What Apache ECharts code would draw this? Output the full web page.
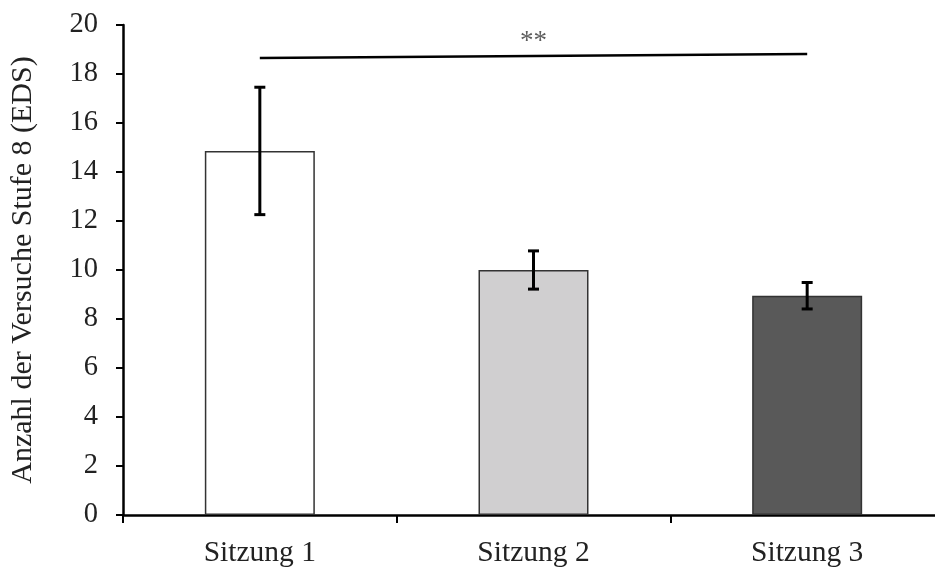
<!DOCTYPE html>
<html><head><meta charset="utf-8">
<script src="https://cdn.jsdelivr.net/npm/echarts@6/dist/echarts.min.js"></script>
<style>html,body{margin:0;padding:0;background:#fff}#c{width:935px;height:568px}</style>
</head><body><div id="c"></div>
<script>
var categories = ['Sitzung 1', 'Sitzung 2', 'Sitzung 3'];
var means = [14.86, 10.0, 8.95];
var errors = [2.6, 0.78, 0.54];
var barColors = ['#ffffff', '#d0cfd0', '#595959'];
var sigLine = [18.65, null, 18.82];
var sigLabel = [null, 19.4, null];
var yTicks = [0, 2, 4, 6, 8, 10, 12, 14, 16, 18, 20];
var yTitle = 'Anzahl der Versuche Stufe 8 (EDS)';

var font = 'Liberation Serif';
var chart = echarts.init(document.getElementById('c'));
chart.setOption({
  animation: false,
  grid: {left: 123, right: -9, top: 25, bottom: 53, containLabel: false, outerBoundsMode: 'none'},
  xAxis: {
    type: 'category', data: categories,
    axisLine: {lineStyle: {color: '#000', width: 2.5}},
    axisTick: {show: true, length: 8, lineStyle: {color: '#000', width: 2}},
    axisLabel: {color: '#222', fontFamily: font, fontSize: 29.5, margin: 23}
  },
  yAxis: {
    type: 'value', min: yTicks[0], max: yTicks[yTicks.length - 1], interval: 2,
    name: yTitle, nameLocation: 'middle', nameGap: 85, nameRotate: 90,
    nameTextStyle: {color: '#222', fontFamily: font, fontSize: 30},
    axisLine: {show: true, lineStyle: {color: '#000', width: 2.5}},
    axisTick: {show: true, length: 7, lineStyle: {color: '#000', width: 2}},
    axisLabel: {color: '#222', fontFamily: font, fontSize: 28.5, margin: 25},
    splitLine: {show: false}
  },
  series: [
    {
      type: 'bar', barWidth: 110,
      data: means.map(function (v, i) {
        return {value: v, itemStyle: {color: barColors[i], borderColor: '#333', borderWidth: 1.5}};
      })
    },
    {
      type: 'custom',
      data: means.map(function (v, i) { return [i, v, errors[i]]; }),
      renderItem: function (params, api) {
        var x = api.value(0), m = api.value(1), e = api.value(2);
        var top = api.coord([x, m + e]);
        var bot = api.coord([x, m - e]);
        var hw = 5.5;
        var st = {stroke: '#000', lineWidth: 3};
        return {type: 'group', children: [
          {type: 'line', shape: {x1: top[0], y1: top[1], x2: bot[0], y2: bot[1]}, style: st},
          {type: 'line', shape: {x1: top[0] - hw, y1: top[1], x2: top[0] + hw, y2: top[1]}, style: st},
          {type: 'line', shape: {x1: bot[0] - hw, y1: bot[1], x2: bot[0] + hw, y2: bot[1]}, style: st}
        ]};
      },
      z: 5
    },
    {
      type: 'line', data: sigLine, connectNulls: true, symbol: 'none',
      lineStyle: {color: '#000', width: 2.5}, z: 6
    },
    {
      type: 'scatter', data: sigLabel, symbolSize: 1, itemStyle: {color: 'rgba(0,0,0,0)'},
      label: {show: true, position: 'inside', offset: [0, 2], formatter: '**', color: '#333', fontFamily: font, fontSize: 27}
    }
  ]
});
</script></body></html>
